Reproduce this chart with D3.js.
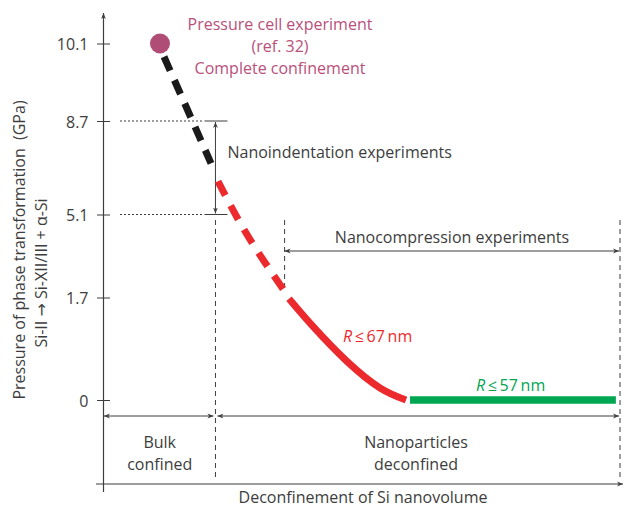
<!DOCTYPE html>
<html>
<head>
<meta charset="utf-8">
<script src="https://cdn.jsdelivr.net/npm/d3@7"></script>
<style>
  html, body { margin: 0; padding: 0; background: #fff; }
  svg text { font-family: "Open Sans", "DejaVu Sans", sans-serif; }
</style>
</head>
<body>
<svg id="chart" width="624" height="507"></svg>
<script>
// ---------- data ----------
const pressureTicks = [0, 1.7, 5.1, 8.7, 10.1];
const pressureTickLabels = ["0", "1.7", "5.1", "8.7", "10.1"];

// [deconfinement (arb. units), pressure (GPa)]
const pressureCellPoint = [1.085, 10.1];
const bulkDashed = [[1.163, 9.86], [1.628, 8.88], [2.074, 7.07]];
const nanoDashed = [[2.209, 6.38], [2.771, 4.28], [3.488, 1.99]];
const nanoSolidR67 = [[3.585, 1.68], [4.05, 1.22], [4.709, 0.64], [5.349, 0.2], [5.853, 0.0]];
const nanoSolidR57 = [[5.93, 0.0], [9.92, 0.0]];

const bulkBoundary = 2.16;          // bulk confined | nanoparticles deconfined
const nanocompRange = [3.50, 10.0]; // nanocompression experiments
const nanoindentRange = [5.1, 8.7]; // nanoindentation experiments (GPa)

// ---------- scales ----------
const svg = d3.select("#chart");
const x = d3.scaleLinear().domain([0, 10]).range([104, 620]);
const y = d3.scaleLinear().domain(pressureTicks).range([400, 297.5, 214.5, 121, 43.5]);

const ink = "#3d3d3d";
const red = "#ec2a2e";
const green = "#00a651";
const pink = "#b9507b";

// arrow markers
const defs = svg.append("defs");
function marker(id, orient) {
  defs.append("marker")
    .attr("id", id).attr("viewBox", "0 0 10 10")
    .attr("refX", 10).attr("refY", 5)
    .attr("markerWidth", 6).attr("markerHeight", 6)
    .attr("markerUnits", "userSpaceOnUse")
    .attr("orient", orient)
    .append("path").attr("d", "M0,1 L10,5 L0,9 L3,5 Z").attr("fill", ink);
}
marker("arr", "auto");
marker("arrS", "auto-start-reverse");

// ---------- axes ----------
const yAxis = d3.axisLeft(y).tickValues(pressureTicks)
  .tickFormat((d, i) => pressureTickLabels[i]).tickSize(6).tickPadding(9);
const gy = svg.append("g").attr("transform", `translate(${x(0) - 0.5},0)`).call(yAxis);
gy.select(".domain").remove();
gy.selectAll(".tick line").attr("x1", -6.5).attr("x2", 6.5).attr("stroke", ink);
gy.selectAll(".tick text").attr("fill", ink).style("font-size", "16px")
  .style("font-family", "'Open Sans', sans-serif").attr("dy", "0.4em");

// y axis line with arrow
svg.append("line").attr("x1", x(0) - 0.5).attr("x2", x(0) - 0.5)
  .attr("y1", 492).attr("y2", 13).attr("stroke", ink).attr("stroke-width", 1.2)
  .attr("marker-end", "url(#arr)");
// x axis line with arrow
svg.append("line").attr("x1", 96).attr("x2", 623)
  .attr("y1", 484).attr("y2", 484).attr("stroke", ink).attr("stroke-width", 1.2)
  .attr("marker-end", "url(#arr)");

// axis titles
svg.append("text").attr("transform", "translate(25,250) rotate(-90)")
  .attr("text-anchor", "middle").attr("fill", ink).style("font-size", "16px")
  .text("Pressure of phase transformation\u00a0\u00a0(GPa)");
svg.append("text").attr("transform", "translate(47,273) rotate(-90)")
  .attr("text-anchor", "middle").attr("fill", ink).style("font-size", "16px")
  .text("Si-II \u2192 Si-XII/III + \u03b1-Si");
svg.append("text").attr("x", 363).attr("y", 503)
  .attr("text-anchor", "middle").attr("fill", ink).style("font-size", "16px")
  .text("Deconfinement of Si nanovolume");

// ---------- nanoindentation annotation ----------
const ax = x(bulkBoundary);
nanoindentRange.forEach(p => {
  svg.append("line").attr("x1", x(0) + 16).attr("x2", ax - 12)
    .attr("y1", y(p)).attr("y2", y(p)).attr("stroke", ink)
    .attr("stroke-width", 1).attr("stroke-dasharray", "2,2");
  svg.append("line").attr("x1", ax - 11).attr("x2", ax + 12)
    .attr("y1", y(p)).attr("y2", y(p)).attr("stroke", ink).attr("stroke-width", 1);
});
svg.append("line").attr("x1", ax).attr("x2", ax)
  .attr("y1", y(nanoindentRange[1]) + 1).attr("y2", y(nanoindentRange[0]) - 1)
  .attr("stroke", ink).attr("stroke-width", 1)
  .attr("marker-start", "url(#arrS)").attr("marker-end", "url(#arr)");
svg.append("text").attr("x", ax + 12).attr("y", 158)
  .attr("fill", ink).style("font-size", "16px").text("Nanoindentation experiments");

// ---------- boundaries ----------
function vdash(xv, y1, y2) {
  svg.append("line").attr("x1", x(xv)).attr("x2", x(xv)).attr("y1", y1).attr("y2", y2)
    .attr("stroke", ink).attr("stroke-width", 1).attr("stroke-dasharray", "5,4");
}
vdash(bulkBoundary, 220, 481);
vdash(nanocompRange[0], 220, 290);
vdash(nanocompRange[1], 220, 481);

// nanocompression arrow
svg.append("line").attr("x1", x(nanocompRange[0])).attr("x2", x(nanocompRange[1]) - 1)
  .attr("y1", 251).attr("y2", 251).attr("stroke", ink).attr("stroke-width", 1)
  .attr("marker-start", "url(#arrS)").attr("marker-end", "url(#arr)");
svg.append("text").attr("x", 452).attr("y", 243).attr("text-anchor", "middle")
  .attr("fill", ink).style("font-size", "16px").text("Nanocompression experiments");

// region arrows
svg.append("line").attr("x1", x(0)).attr("x2", x(bulkBoundary) - 2)
  .attr("y1", 416).attr("y2", 416).attr("stroke", ink).attr("stroke-width", 1)
  .attr("marker-start", "url(#arrS)").attr("marker-end", "url(#arr)");
svg.append("line").attr("x1", x(bulkBoundary) + 2).attr("x2", x(nanocompRange[1]) - 1)
  .attr("y1", 416).attr("y2", 416).attr("stroke", ink).attr("stroke-width", 1)
  .attr("marker-start", "url(#arrS)").attr("marker-end", "url(#arr)");

// region labels
[["Bulk", "confined", (x(0) + x(bulkBoundary)) / 2],
 ["Nanoparticles", "deconfined", 416]].forEach(([a, b, cx]) => {
  svg.append("text").attr("x", cx).attr("y", 448).attr("text-anchor", "middle")
    .attr("fill", ink).style("font-size", "16px").text(a);
  svg.append("text").attr("x", cx).attr("y", 470).attr("text-anchor", "middle")
    .attr("fill", ink).style("font-size", "16px").text(b);
});

// ---------- curves ----------
const line = d3.line().x(d => x(d[0])).y(d => y(d[1])).curve(d3.curveNatural);
svg.append("path").attr("d", line(bulkDashed)).attr("fill", "none")
  .attr("stroke", "#1a1a1a").attr("stroke-width", 7).attr("stroke-dasharray", "15,10.5");
svg.append("path").attr("d", line(nanoDashed)).attr("fill", "none")
  .attr("stroke", red).attr("stroke-width", 7).attr("stroke-dasharray", "16,11.5");
svg.append("path").attr("d", line(nanoSolidR67)).attr("fill", "none")
  .attr("stroke", red).attr("stroke-width", 7);
svg.append("path").attr("d", line(nanoSolidR57)).attr("fill", "none")
  .attr("stroke", green).attr("stroke-width", 7.5);

// pressure cell point
svg.append("circle").attr("cx", x(pressureCellPoint[0])).attr("cy", y(pressureCellPoint[1]))
  .attr("r", 10).attr("fill", "#b04d76");

// curve labels
function rLabel(txt, px, py, color) {
  const t = svg.append("text").attr("x", px).attr("y", py).attr("fill", color).style("font-size", "16px");
  t.append("tspan").style("font-style", "italic").text("R");
  t.append("tspan").text("\u2009\u2264\u2009" + txt + "\u2009nm");
}
rLabel("67", 343, 342, red);
rLabel("57", 476, 391, green);

// pressure cell label
["Pressure cell experiment", "(ref. 32)", "Complete confinement"].forEach((s, i) => {
  svg.append("text").attr("x", 280).attr("y", 30 + i * 22).attr("text-anchor", "middle")
    .attr("fill", pink).style("font-size", "16px").text(s);
});
</script>
</body>
</html>
